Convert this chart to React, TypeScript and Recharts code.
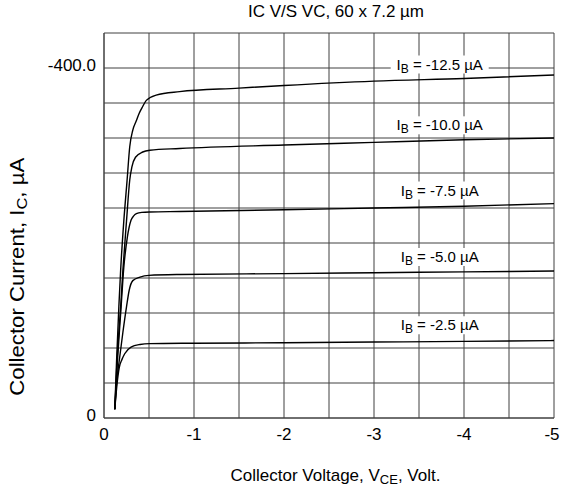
import React from "react";
import { LineChart, Line, XAxis, YAxis, CartesianGrid, ReferenceDot } from "recharts";

// Collector voltage (V) and collector current (µA)
const V_IB_125 = [-0.12, -0.14, -0.165, -0.185, -0.22, -0.256, -0.286, -0.32, -0.36, -0.39, -0.43, -0.47, -0.58, -0.84, -1.5, -2, -3, -4, -5];
const I_IB_125 = [-10, -66, -127, -169, -225, -271, -310, -329, -340, -348, -356, -363, -369, -373, -377, -380, -385, -388, -392];

const V_IB_100 = [-0.12, -0.145, -0.185, -0.21, -0.25, -0.286, -0.31, -0.35, -0.43, -0.51, -0.84, -2, -3, -4, -5];
const I_IB_100 = [-10, -66, -127, -169, -225, -272, -287, -298, -304, -306, -308, -312, -315, -318, -320];

const V_IB_75 = [-0.12, -0.15, -0.19, -0.22, -0.26, -0.3, -0.33, -0.36, -0.42, -0.51, -0.84, -2, -3, -4, -5];
const I_IB_75 = [-10, -66, -127, -172, -207, -226, -231, -233.5, -235, -235.5, -236, -238, -240, -242, -245];

const V_IB_50 = [-0.12, -0.14, -0.17, -0.21, -0.25, -0.28, -0.32, -0.4, -0.5, -0.84, -2, -3, -4, -5];
const I_IB_50 = [-10, -40, -66, -98, -127, -146, -157, -161, -163, -164, -165, -166, -167, -168];

const V_IB_25 = [-0.12, -0.145, -0.17, -0.2, -0.23, -0.3, -0.4, -0.51, -1, -2, -3, -4, -5];
const I_IB_25 = [-10, -39, -58, -67, -73.4, -81, -84, -85, -85.5, -86, -86.8, -87.6, -88.5];

const X_TICKS = [0, -0.5, -1, -1.5, -2, -2.5, -3, -3.5, -4, -4.5, -5];
const Y_TICKS = [0, -40, -80, -120, -160, -200, -240, -280, -320, -360, -400, -440];

const LABEL_TEXTS = ["-12.5", "-10.0", "-7.5", "-5.0", "-2.5"];
const LABEL_V = -3.73;
const LABEL_I = [-404, -334.5, -260, -184, -106];

const TITLE = "IC V/S VC, 60 x 7.2 \u00B5m";

const zip = (vs: number[], is: number[]) => vs.map((v, k) => ({ v, i: is[k] }));
const SERIES = [
  zip(V_IB_125, I_IB_125),
  zip(V_IB_100, I_IB_100),
  zip(V_IB_75, I_IB_75),
  zip(V_IB_50, I_IB_50),
  zip(V_IB_25, I_IB_25),
];

const FONT = "'Liberation Sans', Arial, Helvetica, sans-serif";

const renderIb = (txt: string) => (props: any) => {
  const vb = props.viewBox || {};
  const cx = (vb.x ?? 0) + (vb.width ?? 0) / 2;
  const cy = (vb.y ?? 0) + (vb.height ?? 0) / 2;
  return (
    <g>
      <rect x={cx - 49} y={cy - 9} width={98} height={18} fill="#ffffff" />
      <text x={cx} y={cy + 5} textAnchor="middle" fontFamily={FONT} fontSize={15} fill="#000">
        I<tspan fontSize={12} dy={3}>B</tspan>
        <tspan dy={-3}>{` = ${txt} \u00B5A`}</tspan>
      </text>
    </g>
  );
};

const yFmt = (v: number) => (v === 0 ? "0" : v === -400 ? "-400.0" : "");
const xFmt = (v: number) => (Number.isInteger(v) ? String(v === 0 ? 0 : v) : "");

const XTick = (props: any) => {
  const { x, y, payload } = props;
  const label = xFmt(payload.value);
  if (!label) return null;
  const dx = payload.value === -5 ? -2 : 0;
  return (
    <text x={x + dx} y={y} dy="0.71em" textAnchor="middle" fontFamily={FONT} fontSize={17} fill="#000">
      {label}
    </text>
  );
};

const YTick = (props: any) => {
  const { x, y, payload } = props;
  const label = yFmt(payload.value);
  if (!label) return null;
  return (
    <text x={x} y={y - 3} dy="0.355em" textAnchor="end" fontFamily={FONT} fontSize={17} fill="#000">
      {label}
    </text>
  );
};

export default function App() {
  return (
    <div style={{ position: "relative", width: 561, height: 485, fontFamily: FONT, color: "#000" }}>
      <style>{"html,body{margin:0;padding:0;}"}</style>
      <LineChart width={561} height={485} margin={{ top: 33, right: 7, left: 0, bottom: 0 }}>
        <CartesianGrid stroke="#404040" strokeWidth={1} />
        <XAxis
          type="number"
          dataKey="v"
          domain={[-5, 0]}
          reversed
          ticks={X_TICKS}
          tick={<XTick />}
          tickLine={false}
          tickMargin={4}
          height={67}
          interval={0}
          axisLine={{ stroke: "#404040" }}
          allowDataOverflow
        />
        <YAxis
          type="number"
          dataKey="i"
          domain={[-440, 0]}
          reversed
          ticks={Y_TICKS}
          tick={<YTick />}
          tickLine={false}
          width={104}
          interval={0}
          axisLine={{ stroke: "#404040" }}
          allowDataOverflow
        />
        {SERIES.map((d, k) => (
          <Line
            key={k}
            data={d}
            dataKey="i"
            type="monotone"
            stroke="#000"
            strokeWidth={1.4}
            dot={false}
            isAnimationActive={false}
          />
        ))}
        {LABEL_TEXTS.map((t, k) => (
          <ReferenceDot
            key={"l" + k}
            x={LABEL_V}
            y={LABEL_I[k]}
            r={1}
            fill="none"
            stroke="none"
            label={renderIb(t)}
          />
        ))}
      </LineChart>
      <svg
        width={561}
        height={485}
        style={{ position: "absolute", left: 0, top: 0, pointerEvents: "none" }}
      >
        <text x={336} y={17} textAnchor="middle" fontFamily={FONT} fontSize={17} fill="#000">
          {TITLE}
        </text>
        <text x={335.5} y={480.5} textAnchor="middle" fontFamily={FONT} fontSize={17} fill="#000">
          Collector Voltage, V<tspan fontSize={13} dy={3}>CE</tspan>
          <tspan dy={-3}>, Volt.</tspan>
        </text>
        <text
          x={24.5}
          y={276.7}
          transform="rotate(-90, 24.5, 276.7)"
          textAnchor="middle"
          fontFamily={FONT}
          fontSize={19.5}
          textLength={238}
          lengthAdjust="spacingAndGlyphs"
          fill="#000"
        >
          Collector Current, I<tspan fontSize={14.5} dy={3}>C</tspan>
          <tspan dy={-3}>, {"\u00B5"}A</tspan>
        </text>
      </svg>
    </div>
  );
}
